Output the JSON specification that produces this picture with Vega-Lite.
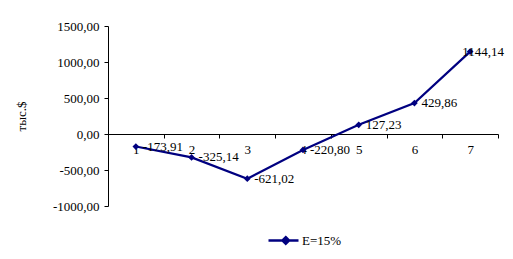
{
  "$schema": "https://vega.github.io/schema/vega-lite/v6.json",
  "width": 390,
  "height": 180,
  "autosize": "none",
  "padding": {"left": 108, "top": 26, "right": 15, "bottom": 53},
  "background": "white",
  "config": {
    "locale": {"number": {"decimal": ",", "thousands": "", "grouping": [3], "currency": ["", "$"], "minus": "-"}},
    "font": "Liberation Serif",
    "view": {"stroke": null}
  },
  "data": {
    "values": [
      {"period": "1", "value": -173.91, "series": "E=15%"},
      {"period": "2", "value": -325.14, "series": "E=15%"},
      {"period": "3", "value": -621.02, "series": "E=15%"},
      {"period": "4", "value": -220.80, "series": "E=15%"},
      {"period": "5", "value": 127.23, "series": "E=15%"},
      {"period": "6", "value": 429.86, "series": "E=15%"},
      {"period": "7", "value": 1144.14, "series": "E=15%"}
    ]
  },
  "encoding": {
    "x": {
      "field": "period", "type": "ordinal", "title": null,
      "scale": {"paddingInner": 0, "paddingOuter": 0},
      "axis": {"offset": -72, "tickBand": "extent", "labelAngle": 0, "labelFontSize": 13, "labelColor": "black", "labelPadding": 5, "domainColor": "black", "tickColor": "black", "tickSize": 4, "grid": false}
    },
    "y": {
      "field": "value", "type": "quantitative", "title": "тыс.$",
      "scale": {"domain": [-1000, 1500], "nice": false, "zero": false},
      "axis": {"values": [-1000, -500, 0, 500, 1000, 1500], "format": ".2f", "grid": false, "labelFontSize": 13, "labelColor": "black", "domainColor": "black", "tickColor": "black", "tickSize": 4, "labelPadding": 5, "titleFontSize": 13, "titleFontWeight": "normal", "titleColor": "black", "titlePadding": 24}
    }
  },
  "layer": [
    {
      "mark": {"type": "line", "strokeWidth": 2.2, "point": {"shape": "diamond", "size": 45, "filled": true}},
      "encoding": {
        "color": {
          "field": "series", "type": "nominal", "title": null,
          "scale": {"range": ["#000080"]},
          "legend": {"orient": "none", "legendX": 159, "legendY": 198, "symbolType": "M-1,0H1M0.15,-0.22L0.37,0L0.15,0.22L-0.07,0Z", "symbolSize": 900, "symbolStrokeWidth": 2.5, "symbolFillColor": "#000080", "symbolStrokeColor": "#000080", "labelFontSize": 13, "labelColor": "black", "labelOffset": 2, "padding": 0}
        }
      }
    },
    {
      "transform": [{"filter": "datum.period != '7'"}],
      "mark": {"type": "text", "align": "left", "baseline": "middle", "dx": 7, "fontSize": 13, "color": "black"},
      "encoding": {"text": {"field": "value", "type": "quantitative", "format": ".2f"}}
    },
    {
      "transform": [{"filter": "datum.period == '7'"}],
      "mark": {"type": "text", "align": "left", "baseline": "middle", "dx": -8, "fontSize": 13, "color": "black"},
      "encoding": {"text": {"field": "value", "type": "quantitative", "format": ".2f"}}
    }
  ]
}
